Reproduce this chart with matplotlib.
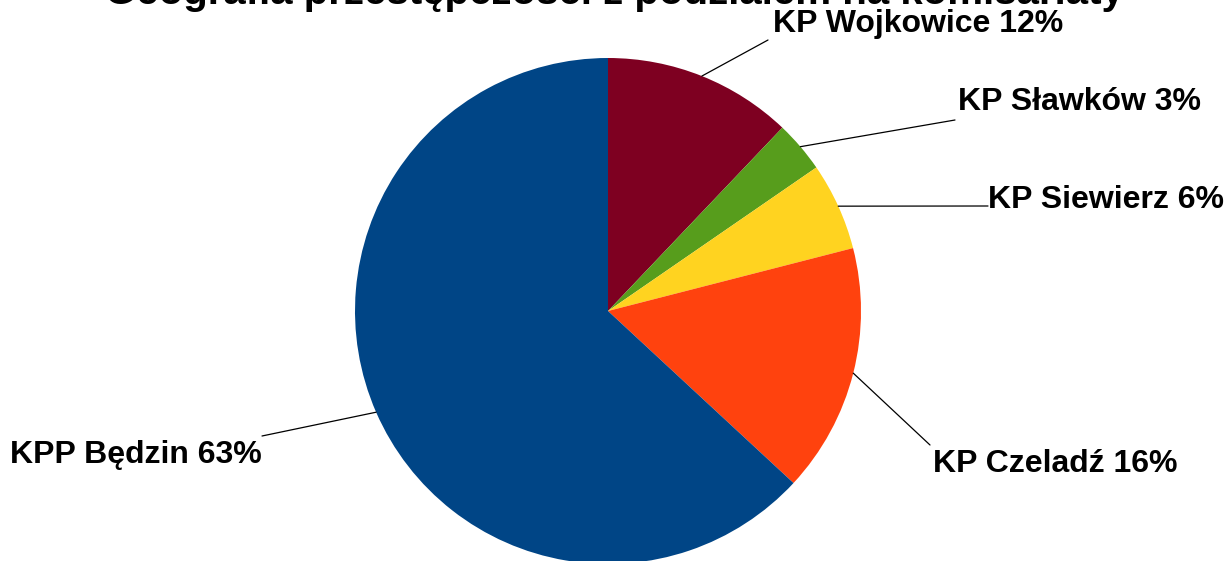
import numpy as np
import matplotlib.pyplot as plt

plt.rcParams['font.family'] = ['Liberation Sans', 'DejaVu Sans']

names = ['KP Wojkowice', 'KP Sławków', 'KP Siewierz', 'KP Czeladź', 'KPP Będzin']
shares = [12.1, 3.3, 5.6, 15.9, 63.1]
pct_labels = ['12%', '3%', '6%', '16%', '63%']
colors = ['#7e0021', '#579d1c', '#ffd320', '#ff420e', '#004586']

W, H = 1228, 561
fig = plt.figure(figsize=(W / 100, H / 100), dpi=100)

cx, cy, r = 608, 311, 253
ax = fig.add_axes([(cx - r) / W, (H - cy - r) / H, 2 * r / W, 2 * r / H])
wedges, _ = ax.pie(shares, colors=colors, startangle=90, counterclock=False,
                   radius=1, wedgeprops=dict(linewidth=0, clip_on=False))
ax.set_xlim(-1, 1)
ax.set_ylim(-1, 1)
ax.axis('off')

# label layout in image pixels: (line end x, line end y, text x, text y, ha)
layout = [
    (768, 40, 773, 24, 'left'),
    (955, 120, 958, 102, 'left'),
    (988, 206, 988, 200, 'left'),
    (930, 445, 933, 464, 'left'),
    (262, 436, 262, 455, 'right'),
]

for w, name, pct, (lx, ly, tx, ty, ha) in zip(wedges, names, pct_labels, layout):
    ang = np.deg2rad((w.theta1 + w.theta2) / 2)
    ax.annotate('', xy=(np.cos(ang), np.sin(ang)), xycoords='data',
                xytext=(lx, H - ly), textcoords='figure pixels',
                arrowprops=dict(arrowstyle='-', color='#000000', lw=0.9,
                                shrinkA=0, shrinkB=0))
    fig.text(tx / W, 1 - ty / H, name + ' ' + pct, ha=ha, va='center',
             fontsize=23, fontweight='bold')

fig.text(0.5, 1 - 4 / H, 'Geografia przestępczości z podziałem na komisariaty',
         ha='center', va='baseline', fontsize=29, fontweight='bold')

fig.savefig('out.png', dpi=100)
